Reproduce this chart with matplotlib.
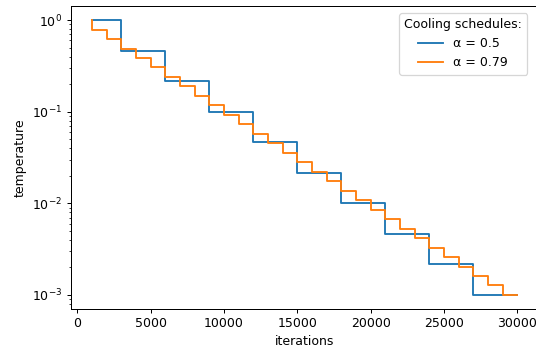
import matplotlib
matplotlib.use("Agg")
import matplotlib.pyplot as plt

iters_a = [1000, 3000, 6000, 9000, 12000, 15000, 18000, 21000, 24000, 27000, 30000]
temp_a = [1.0, 1.0, 0.464, 0.215, 0.1, 0.0464, 0.0215, 0.01, 0.00464, 0.00215, 0.001]

iters_b = [1000, 2000, 3000, 4000, 5000, 6000, 7000, 8000, 9000, 10000,
           11000, 12000, 13000, 14000, 15000, 16000, 17000, 18000, 19000, 20000,
           21000, 22000, 23000, 24000, 25000, 26000, 27000, 28000, 29000, 30000]
temp_b = [1.0, 0.788, 0.621, 0.489, 0.386, 0.304, 0.239, 0.189, 0.149, 0.117,
          0.0924, 0.0728, 0.0574, 0.0452, 0.0356, 0.0281, 0.0221, 0.0174, 0.0137, 0.0108,
          0.00853, 0.00672, 0.0053, 0.00418, 0.00329, 0.00259, 0.00204, 0.00161, 0.00127, 0.001]

labels = ["α = 0.5", "α = 0.79"]

W, H = 536, 349
DPI = 90
fig = plt.figure(figsize=(W / DPI, H / DPI), dpi=DPI)
ax = fig.add_axes([70.8 / W, 1 - 308.7 / H, (538.5 - 70.8) / W, (308.7 - 6.3) / H])
ax.step(iters_a, temp_a, where="pre", label=labels[0], color="#1f77b4")
ax.step(iters_b, temp_b, where="pre", label=labels[1], color="#ff7f0e")
ax.set_yscale("log")
ax.set_xlabel("iterations")
ax.set_ylabel("temperature")
ax.legend(title="Cooling schedules:", loc="upper right",
          bbox_to_anchor=(527 / W, 1 - 13 / H), bbox_transform=fig.transFigure,
          borderaxespad=0)
fig.savefig("out.png", dpi=DPI)
